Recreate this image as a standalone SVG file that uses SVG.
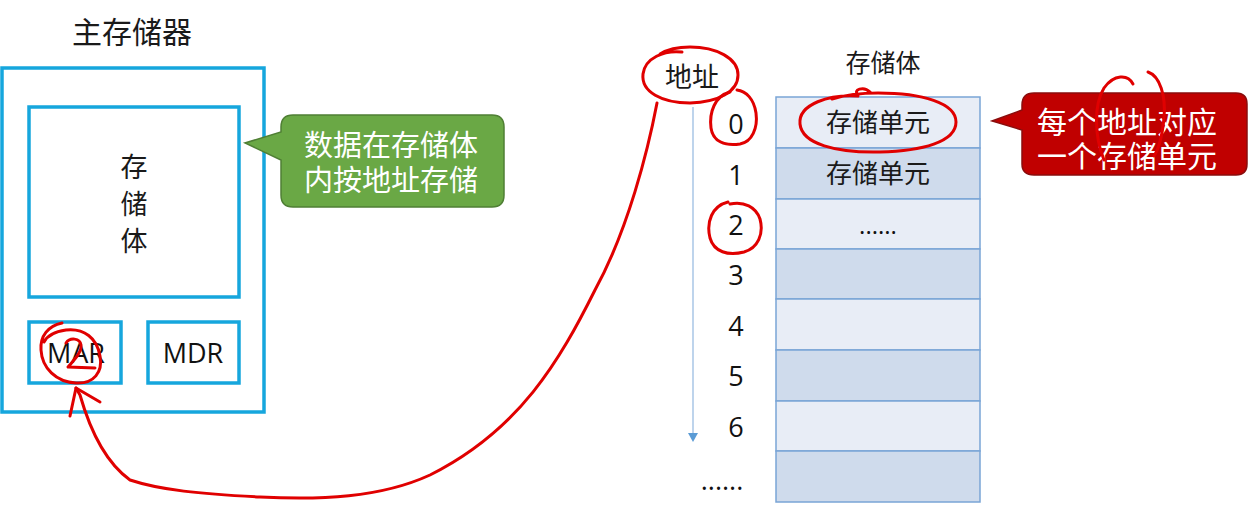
<svg xmlns="http://www.w3.org/2000/svg" width="1248" height="528" viewBox="0 0 1248 528">
<defs>
<style>
.box{fill:#fff;stroke:#16a6dd;stroke-width:3.5}
.cjk{font-family:"Noto Sans CJK SC","Noto Sans",sans-serif;fill:#1a1a1a}
.lat{font-family:"Open Sans","Liberation Sans",sans-serif;fill:#111}
.wt{fill:#fff}
.row1{fill:#e8edf6;stroke:#7aa5d6;stroke-width:1.5}
.row2{fill:#cfdbec;stroke:#7aa5d6;stroke-width:1.5}
.ink{fill:none;stroke:#e00000;stroke-width:3;stroke-linecap:round;stroke-linejoin:round}
</style>
</defs>
<rect width="1248" height="528" fill="#fff"/>

<g id="main-memory">
<text class="cjk" x="132" y="43" font-size="30" text-anchor="middle">主存储器</text>
<rect class="box" x="2" y="68" width="262" height="344"/>
</g>
<g id="storage-body">
<rect class="box" x="29" y="107" width="210" height="190"/>
<text class="cjk" x="134" y="177" font-size="27" text-anchor="middle">存</text>
<text class="cjk" x="134" y="214" font-size="27" text-anchor="middle">储</text>
<text class="cjk" x="134" y="251" font-size="27" text-anchor="middle">体</text>
</g>
<g id="mar">
<rect class="box" x="29" y="322" width="92" height="61"/>
<text class="lat" x="76" y="363" font-size="27" text-anchor="middle">MAR</text>
</g>
<g id="mdr">
<rect class="box" x="148" y="322" width="91" height="61"/>
<text class="lat" x="193" y="363" font-size="27" text-anchor="middle">MDR</text>
</g>
<g id="green-callout">
<path d="M293,115 H492 Q504,115 504,127 V195 Q504,207 492,207 H293 Q281,207 281,195 V160 L245,143 L281,132 V127 Q281,115 293,115 Z" fill="#6aa845" stroke="#4f7f34" stroke-width="1.5"/>
<text class="cjk wt" x="391" y="156" font-size="29" text-anchor="middle">数据在存储体</text>
<text class="cjk wt" x="391" y="191" font-size="29" text-anchor="middle">内按地址存储</text>
</g>

<g id="address-axis">
<text class="cjk" x="692" y="87" font-size="27" text-anchor="middle">地址</text>
<line x1="693" y1="107" x2="693" y2="434" stroke="#a9c6e6" stroke-width="1.5"/>
<path d="M688,433 L698,433 L693,442 Z" fill="#5b9bd5"/>
<g class="lat" font-size="27" text-anchor="middle">
<text x="736" y="134">0</text>
<text x="736" y="185">1</text>
<text x="736" y="235">2</text>
<text x="736" y="285">3</text>
<text x="736" y="336">4</text>
<text x="736" y="386">5</text>
<text x="736" y="437">6</text>
<text x="722" y="490">......</text>
</g>
</g>

<g id="storage-table">
<text class="cjk" x="883" y="72" font-size="25" text-anchor="middle">存储体</text>
<rect class="row1" x="776" y="97" width="204" height="51"/>
<rect class="row2" x="776" y="148" width="204" height="51"/>
<rect class="row1" x="776" y="199" width="204" height="50"/>
<rect class="row2" x="776" y="249" width="204" height="50"/>
<rect class="row1" x="776" y="299" width="204" height="51"/>
<rect class="row2" x="776" y="350" width="204" height="51"/>
<rect class="row1" x="776" y="401" width="204" height="50"/>
<rect class="row2" x="776" y="451" width="204" height="51"/>
<text class="cjk" x="878" y="132" font-size="26" text-anchor="middle">存储单元</text>
<text class="cjk" x="878" y="183" font-size="26" text-anchor="middle">存储单元</text>
<text class="lat" x="878" y="234" font-size="24" text-anchor="middle">......</text>
</g>

<g id="red-callout">
<path d="M1034,93 H1236 Q1247,93 1247,104 V164 Q1247,175 1236,175 H1034 Q1022,175 1022,164 V130 L992,121 L1022,110 V105 Q1022,93 1034,93 Z" fill="#c00000" stroke="#8a0d0d" stroke-width="1.5"/>
<text class="cjk wt" x="1127" y="133" font-size="30" text-anchor="middle">每个地址对应</text>
<text class="cjk wt" x="1127" y="167" font-size="30" text-anchor="middle">一个存储单元</text>
</g>

<g id="annotations">
<path class="ink" d="M682,52 C664,50 645,58 643,74 C641,92 662,103 690,103 C718,102 738,92 738,75 C738,58 716,47 690,47 C680,47 668,49 660,54"/>
<path class="ink" d="M730,92 C715,96 709,112 711,128 C713,142 725,146 740,144 C752,142 758,128 756,113 C754,99 746,91 737,90"/>
<path class="ink" d="M728,202 C712,206 706,222 710,238 C714,252 728,256 744,252 C758,248 764,234 760,219 C756,207 744,201 730,204"/>
<path class="ink" d="M870,92 C864,86 852,89 858,96 C830,94 798,104 800,124 C802,144 836,153 880,152 C922,151 956,142 956,122 C956,103 922,93 878,93 C860,93 845,95 832,99"/>
<path class="ink" stroke="#ff3030" stroke-width="2" d="M1133,84 C1128,74 1114,74 1104,88 C1094,104 1094,135 1104,160 M1148,72 C1160,76 1166,96 1164,118 C1162,138 1158,150 1154,156"/>
<path class="ink" d="M62,323 C48,326 40,336 41,350 C42,368 56,382 76,383 C94,384 103,372 100,356 C97,338 84,328 66,330 C52,332 46,338 44,342"/>
<path class="ink" stroke-width="4" d="M66,343 C70,337 80,338 81,345 C82,352 74,360 68,367 L95,368"/>
<path class="ink" d="M657,103 C648,150 628,230 595,290 C560,360 520,430 430,475 C380,498 320,500 260,497 C200,494 160,490 130,480 C105,462 90,430 80,395 L76,388"/>
<path class="ink" d="M70,416 L76,388 L100,402"/>
</g>
</svg>
